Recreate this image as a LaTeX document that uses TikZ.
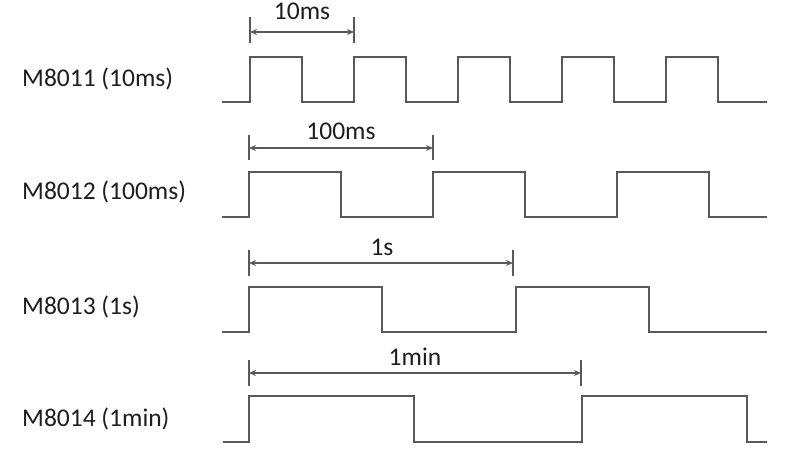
\documentclass[tikz,border=0pt]{standalone}
\usepackage{fontspec}
\setmainfont{Carlito}
\usetikzlibrary{arrows.meta}
\definecolor{wavegray}{HTML}{595959}
\definecolor{txt}{HTML}{1E1E1E}
\begin{document}
\begin{tikzpicture}[x=1pt,y=-1pt,
  wave/.style={draw=wavegray, line width=1.6pt, line join=miter},
  tick/.style={draw=wavegray, line width=1.2pt},
  dim/.style={draw=wavegray, line width=1.2pt, {Stealth[length=7pt,width=6pt]}-{Stealth[length=7pt,width=6pt]}},
  lbl/.style={anchor=base west, text=txt, font=\fontsize{25.5}{30}\selectfont, inner sep=0pt},
  dlbl/.style={anchor=base, text=txt, font=\fontsize{25.5}{30}\selectfont, inner sep=0pt}]
\useasboundingbox (0,0) rectangle (787,457);

% labels
\node[lbl] (l1) at (22,87) {M8011 (10ms)};
\node[lbl] (l2) at (22,200) {M8012 (100ms)};
\node[lbl] (l3) at (22,314) {M8013 (1s)};
\node[lbl] (l4) at (22,426) {M8014 (1min)};

% waveforms
\draw[wave] (222,102) -- (250,102) -- (250,57) -- (302,57) -- (302,102) -- (354,102) -- (354,57) -- (406,57) -- (406,102) -- (458,102) -- (458,57) -- (510,57) -- (510,102) -- (562,102) -- (562,57) -- (614,57) -- (614,102) -- (666,102) -- (666,57) -- (718,57) -- (718,102) -- (767,102);
\draw[wave] (222,217) -- (249,217) -- (249,172) -- (341,172) -- (341,217) -- (433,217) -- (433,172) -- (525,172) -- (525,217) -- (617,217) -- (617,172) -- (709,172) -- (709,217) -- (767,217);
\draw[wave] (222,332) -- (249,332) -- (249,287) -- (382,287) -- (382,332) -- (516,332) -- (516,287) -- (649,287) -- (649,332) -- (767,332);
\draw[wave] (223,442) -- (249,442) -- (249,396) -- (414,396) -- (414,442) -- (582,442) -- (582,396) -- (747,396) -- (747,442) -- (767,442);

% dimension markers
\coordinate (a1) at (250,32); \coordinate (b1) at (354,32);
\draw[tick] (250,17) -- (250,43); \draw[tick] (354,17) -- (354,43);
\draw[dim] (a1) -- (b1);
\node[dlbl] (d1) at (302,20) {10ms};

\coordinate (a2) at (249,148); \coordinate (b2) at (433,148);
\draw[tick] (249,135) -- (249,160); \draw[tick] (433,135) -- (433,160);
\draw[dim] (a2) -- (b2);
\node[dlbl] (d2) at (341,140) {100ms};

\coordinate (a3) at (249,263); \coordinate (b3) at (513,263);
\draw[tick] (249,250) -- (249,276); \draw[tick] (513,250) -- (513,276);
\draw[dim] (a3) -- (b3);
\node[dlbl] (d3) at (382,255) {1s};

\coordinate (a4) at (249,373); \coordinate (b4) at (581,373);
\draw[tick] (249,360) -- (249,386); \draw[tick] (581,360) -- (581,386);
\draw[dim] (a4) -- (b4);
\node[dlbl] (d4) at (415,365) {1min};
\end{tikzpicture}
\end{document}
